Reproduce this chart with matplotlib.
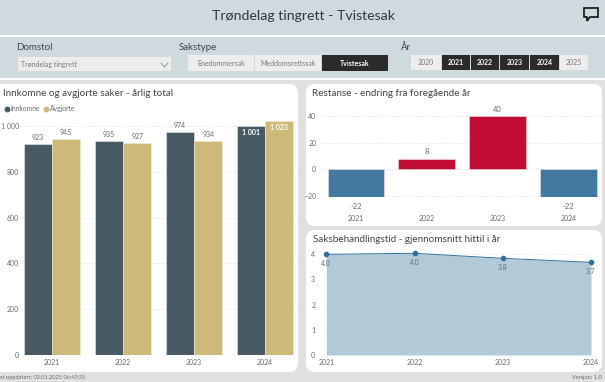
import matplotlib
matplotlib.use("Agg")
import matplotlib.pyplot as plt
from matplotlib.patches import Rectangle, FancyBboxPatch, Polygon

plt.rcParams['font.family'] = ['Lato', 'DejaVu Sans']

years = ['2021', '2022', '2023', '2024']
innkomne = [923, 935, 974, 1001]
avgjorte = [945, 927, 934, 1023]
bar_ticks = [0, 200, 400, 600, 800, 1000]
bar_ticklabels = ['0', '200', '400', '600', '800', '1 000']
restanse = [-22, 8, 40, -22]
rest_ticks = [-20, 0, 20, 40]
tid = [4.0, 4.04, 3.84, 3.68]
tid_labels = ['4.0', '4.0', '3.8', '3.7']
tid_ticks = [0, 1, 2, 3, 4]

W, H = 605, 382
TXT = '#3c4449'
GREY = '#666c70'
SLATE = '#485b65'
TAN = '#cdb978'
RED = '#c20c35'
BLUE = '#43799f'
AREA = '#b2c9d8'
LINE = '#2f6f9b'
GRID = '#d9dde0'

fig = plt.figure(figsize=(W / 100, H / 100), dpi=100, facecolor='#e0e0e0')

# background in pixel coordinates
bg = fig.add_axes([0, 0, 1, 1])
bg.set_xlim(0, W)
bg.set_ylim(H, 0)
bg.axis('off')


def box(x0, y0, x1, y1, color, ax=bg):
    ax.add_patch(Rectangle((x0, y0), x1 - x0, y1 - y0, facecolor=color, edgecolor='none'))


def panel(x0, y0, x1, y1):
    bg.add_patch(FancyBboxPatch((x0 + 9, y0 + 9), x1 - x0 - 18, y1 - y0 - 18,
                                boxstyle='round,pad=9,rounding_size=9',
                                facecolor='white', edgecolor='none', mutation_aspect=1))


def button(x0, x1, y0, y1, label, active):
    box(x0, y0, x1, y1, '#2b2b2b' if active else '#ededed')
    bg.text((x0 + x1) / 2, (y0 + y1) / 2, label, ha='center', va='center', fontsize=5,
            color='white' if active else '#777777', fontweight='bold' if active else 'normal')


# header and filter bands
box(0, 0, W, 35, '#d0d9dd')
box(0, 35, W, 37, 'white')
box(0, 37, W, 78, '#d0d9dd')
box(0, 78, W, 80, 'white')
bg.text(304, 16.5, 'Trøndelag tingrett - Tvistesak', ha='center', va='center', fontsize=10.2, color='#2f373b')
bg.add_patch(Polygon([(584, 8), (598, 8), (598, 17), (590, 17), (587, 21), (587, 17), (584, 17)],
                     closed=True, facecolor='none', edgecolor='#111111', linewidth=1.2))

# slicers
bg.text(16, 48, 'Domstol', va='center', fontsize=7, color=TXT)
bg.text(179, 48, 'Sakstype', va='center', fontsize=7, color=TXT)
bg.text(401, 47, 'År', va='center', fontsize=7, color=TXT)
box(18, 57, 171, 71, '#ededed')
bg.text(21, 64, 'Trøndelag tingrett', va='center', fontsize=5, color='#777777')
bg.plot([161, 164.5, 168], [63, 67, 63], color='#888888', linewidth=0.6)
button(188, 254, 55, 71, 'Enedommersak', False)
button(255, 321, 55, 71, 'Meddomsrettssak', False)
button(322, 388, 55, 71, 'Tvistesak', True)
button(411, 441, 55, 70, '2020', False)
button(442, 470, 55, 70, '2021', True)
button(471, 499, 55, 70, '2022', True)
button(500, 529, 55, 70, '2023', True)
button(530, 559, 55, 70, '2024', True)
button(560, 588, 55, 70, '2025', False)

# panels
panel(-12, 84, 298, 372)
panel(306, 84, 602, 226)
panel(306, 230, 602, 372)

bg.text(3, 93.5, 'Innkomne og avgjorte saker - årlig total', va='center', fontsize=7.1, color=TXT)
bg.text(312, 93.5, 'Restanse - endring fra foregående år', va='center', fontsize=7.1, color=TXT)
bg.text(313, 239.5, 'Saksbehandlingstid - gjennomsnitt hittil i år', va='center', fontsize=7.1, color=TXT)

# legend
bg.plot([6.5], [109], 'o', color=SLATE, markersize=3.2)
bg.text(10, 111, 'Innkomne', va='baseline', fontsize=4.9, color=GREY)
bg.plot([46], [109], 'o', color=TAN, markersize=3.2)
bg.text(50, 111, 'Avgjorte', va='baseline', fontsize=4.9, color=GREY)

# footer, the reference shows this text cut at the left edge
bg.text(0, 378, 'st oppdatert: 02.01.2025 06:43:31', va='center', fontsize=4.1, color=GREY)
bg.text(602, 378, 'Versjon: 1.0', va='center', ha='right', fontsize=4.1, color=GREY)


def chart_axes(x0, x1, ytop, ybottom):
    ax = fig.add_axes([x0 / W, 1 - ybottom / H, (x1 - x0) / W, (ybottom - ytop) / H])
    ax.patch.set_alpha(0)
    for s in ax.spines.values():
        s.set_visible(False)
    ax.tick_params(length=0, labelsize=5, labelcolor=GREY, pad=3)
    ax.set_axisbelow(True)
    ax.grid(axis='y', color=GRID, linestyle=':', linewidth=0.6)
    return ax


# yearly totals
ax1 = chart_axes(16.5, 300.5, 120, 355)
pos = list(range(len(years)))
w = 0.4
b1 = ax1.bar([p - w / 2 for p in pos], innkomne, w, color=SLATE, edgecolor='#e8ecee', linewidth=0.4)
b2 = ax1.bar([p + w / 2 for p in pos], avgjorte, w, color=TAN, edgecolor='#f0ead6', linewidth=0.4)
ax1.set_xlim(-0.5, 3.5)
ax1.set_ylim(0, 235 / 229 * 1000)
ax1.set_yticks(bar_ticks, bar_ticklabels)
ax1.set_xticks(pos, years)
ax1.tick_params(axis='y', pad=-2)
for bars, vals in ((b1, innkomne), (b2, avgjorte)):
    for b, v in zip(bars, vals):
        x = b.get_x() + b.get_width() / 2
        if v > 1000:
            ax1.text(x, v - 28, f'{v // 1000} {v % 1000:03d}', ha='center', va='center', fontsize=5,
                     color='white', fontweight='bold')
        else:
            ax1.annotate(str(v), (x, v), xytext=(0, 2), textcoords='offset points', ha='center',
                         va='bottom', fontsize=5, color=GREY)

# backlog change
ax2 = chart_axes(320.5, 604, 116, 196.7)
colors = [RED if v > 0 else BLUE for v in restanse]
ax2.bar(pos, restanse, 0.8, color=colors, edgecolor='#f3dfe3', linewidth=0.4)
ax2.set_xlim(-0.5, 3.5)
ax2.set_ylim(-20.5, 40)
ax2.set_yticks(rest_ticks)
ax2.set_xticks(pos, years)
ax2.tick_params(axis='x', pad=13)
for p, v in zip(pos, restanse):
    if v > 0:
        ax2.annotate(str(v), (p, v), xytext=(0, 2.5), textcoords='offset points', ha='center',
                     va='bottom', fontsize=5.5, color=GREY, annotation_clip=False)
    else:
        ax2.annotate(str(v), (p, -20.5), xytext=(0, -4.5), textcoords='offset points', ha='center',
                     va='top', fontsize=5.5, color=GREY, annotation_clip=False)

# processing time
ax3 = chart_axes(326.3, 591, 250, 355)
ax3.fill_between(pos, tid, 0, color=AREA, linewidth=0)
ax3.plot(pos, tid, color=LINE, linewidth=0.7, marker='o', markersize=3, clip_on=False)
ax3.set_xlim(0, 3)
ax3.set_ylim(0, 105 / 100.7 * 4)
ax3.set_yticks(tid_ticks)
ax3.set_xticks(pos, years)
ax3.tick_params(axis='y', pad=8)
for p, v, lab in zip(pos, tid, tid_labels):
    ax3.annotate(lab, (p, v), xytext=(0, -4), textcoords='offset points', ha='center', va='top',
                 fontsize=5, color=GREY, annotation_clip=False)

fig.savefig('out.png', dpi=100)
